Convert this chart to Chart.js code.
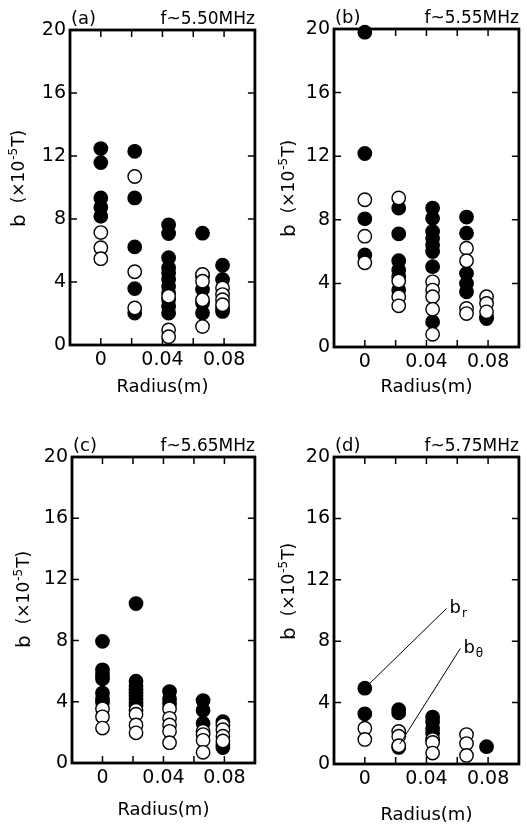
<!DOCTYPE html>
<html>
<head>
<meta charset="utf-8">
<script src="https://cdn.jsdelivr.net/npm/chart.js@4/dist/chart.umd.min.js"></script>
<style>
html,body{margin:0;padding:0;background:#fff;}
#wrap{position:relative;width:527px;height:831px;overflow:hidden;background:#fff;}
canvas{position:absolute;}
</style>
</head>
<body>
<div id="wrap">
<canvas id="ca" width="263" height="415" style="left:0;top:0"></canvas>
<canvas id="cb" width="264" height="415" style="left:263px;top:0"></canvas>
<canvas id="cc" width="263" height="416" style="left:0;top:415px"></canvas>
<canvas id="cd" width="264" height="416" style="left:263px;top:415px"></canvas>
</div>
<script>
// ---------- data ----------
const radii = [0, 0.022, 0.044, 0.066, 0.079];
const xTickValues = [-0.02, 0, 0.02, 0.04, 0.06, 0.08, 0.1];
const xTickLabels = ['', '0', '', '0.04', '', '0.08', ''];
const yTickValues = [0, 4, 8, 12, 16, 20];
const panelLetters = ['(a)', '(b)', '(c)', '(d)'];
const panelFreqs = ['f~5.50MHz', 'f~5.55MHz', 'f~5.65MHz', 'f~5.75MHz'];
const xTitle = 'Radius(m)';
const yTitleMain = 'b';
const yTitlePre = '(×10';
const yTitleSup = '-5';
const yTitlePost = 'T)';

// b_r (filled) and b_theta (open) values, one list per radius
const aFilled = [
  [12.47, 11.58, 9.34, 8.74, 8.17],
  [12.3, 9.34, 6.23, 3.58, 2.03],
  [7.63, 7.08, 5.54, 4.9, 4.58, 4.16, 3.73, 3.3, 2.88, 2.45, 2.03],
  [7.1, 4.37, 3.52, 2.67, 2.03],
  [5.07, 4.16, 2.35, 2.13]
];
const aOpen = [
  [7.14, 6.18, 5.48],
  [10.7, 4.65, 2.35],
  [3.09, 0.96, 0.53],
  [4.48, 4.05, 2.88, 1.17],
  [3.62, 3.2, 2.88, 2.56]
];
const bFilled = [
  [19.8, 12.17, 8.06, 5.79],
  [8.74, 7.12, 5.43, 4.84, 4.42, 3.58],
  [8.74, 8.1, 7.26, 6.84, 6.42, 6.0, 5.05, 1.58],
  [8.17, 7.16, 4.63, 4.0, 3.47],
  [1.89, 1.79]
];
const bOpen = [
  [9.26, 6.97, 5.3],
  [9.37, 4.15, 3.16, 2.59],
  [4.1, 3.58, 3.16, 2.38, 0.8],
  [6.21, 5.43, 2.42, 2.1],
  [3.16, 2.74, 2.21]
];
const cFilled = [
  [7.95, 6.09, 5.77, 5.5, 4.57, 4.19, 3.97],
  [10.42, 5.35, 5.03, 4.82, 4.6, 4.4, 4.19, 3.97, 3.76],
  [4.67, 4.19, 3.87],
  [4.08, 3.45, 2.6],
  [2.7, 1.23, 1.01]
];
const cOpen = [
  [3.55, 3.02, 2.28],
  [3.45, 3.19, 2.49, 1.97],
  [3.55, 2.92, 2.49, 2.07, 1.33],
  [2.07, 1.86, 1.48, 0.7],
  [2.49, 2.18, 1.75, 1.44]
];
const dFilled = [
  [4.94, 3.27],
  [3.54, 3.33, 1.08],
  [3.06, 2.75, 2.33, 2.02],
  [],
  [1.13]
];
const dOpen = [
  [2.33, 1.6],
  [2.12, 1.81, 1.19],
  [1.6, 1.4, 0.71],
  [1.92, 1.33, 0.56],
  []
];
// annotation labels in panel (d): label anchor and the point it refers to
const annBrLabel = {x: 0.055, y: 10.2};
const annBrTarget = {x: 0, y: 4.94};
const annBtLabel = {x: 0.064, y: 7.6};
const annBtTarget = {x: 0.022, y: 1.19};

// ---------- layout (canvas-relative) ----------
const layouts = [
  {id:'ca', w:263, h:415, l:70, r:259, t:30, b:345, yTx:20, yTy:227, xTy:387},
  {id:'cb', w:264, h:415, l:71, r:262, t:29, b:347, yTx:27, yTy:237, xTy:387},
  {id:'cc', w:263, h:416, l:72, r:260, t:42, b:348, yTx:25, yTy:233, xTy:395},
  {id:'cd', w:264, h:416, l:71, r:262, t:42, b:349, yTx:27, yTy:225, xTy:400}
];
const panelData = [[aFilled, aOpen], [bFilled, bOpen], [cFilled, cOpen], [dFilled, dOpen]];

const FONT = '"DejaVu Sans", "Liberation Sans", Arial, sans-serif';

function toPoints(groups) {
  const pts = [];
  groups.forEach((g, i) => g.forEach(v => pts.push({x: radii[i], y: v})));
  return pts;
}

function drawLabelWithSub(ctx, x, y, main, sub, mainSize, subSize) {
  ctx.font = mainSize + 'px ' + FONT;
  ctx.textAlign = 'left';
  ctx.textBaseline = 'alphabetic';
  ctx.fillText(main, x, y);
  const w = ctx.measureText(main).width;
  ctx.font = subSize + 'px ' + FONT;
  ctx.fillText(sub, x + w + 1, y + 4);
}

function makePlugin(idx, L) {
  return {
    id: 'frame' + idx,
    afterDatasetsDraw(chart) {
      const ctx = chart.ctx;
      const a = chart.chartArea;
      const xs = chart.scales.x, ys = chart.scales.y;
      ctx.save();
      ctx.strokeStyle = '#000';
      ctx.fillStyle = '#000';
      // inward ticks
      ctx.lineWidth = 1.5;
      ctx.beginPath();
      xTickValues.forEach(v => {
        if (v <= xs.min || v >= xs.max) return;
        const px = xs.getPixelForValue(v);
        ctx.moveTo(px, a.bottom); ctx.lineTo(px, a.bottom - 7);
        ctx.moveTo(px, a.top); ctx.lineTo(px, a.top + 7);
      });
      yTickValues.forEach(v => {
        if (v <= ys.min || v >= ys.max) return;
        const py = ys.getPixelForValue(v);
        ctx.moveTo(a.left, py); ctx.lineTo(a.left + 7, py);
        ctx.moveTo(a.right, py); ctx.lineTo(a.right - 7, py);
      });
      ctx.stroke();
      // frame
      ctx.lineWidth = 2.8;
      ctx.strokeRect(a.left, a.top, a.right - a.left, a.bottom - a.top);

      // panel letter and frequency
      ctx.font = '18px ' + FONT;
      ctx.textBaseline = 'alphabetic';
      ctx.textAlign = 'left';
      ctx.fillText(panelLetters[idx], a.left + 1, a.top - 6);
      ctx.font = '17px ' + FONT;
      ctx.textAlign = 'right';
      ctx.fillText(panelFreqs[idx], a.right, a.top - 6);

      // x title
      ctx.font = '18px ' + FONT;
      ctx.textAlign = 'center';
      ctx.textBaseline = 'middle';
      ctx.fillText(xTitle, (a.left + a.right) / 2, L.xTy);

      // y title (rotated)
      ctx.save();
      ctx.translate(L.yTx, L.yTy);
      ctx.rotate(-Math.PI / 2);
      ctx.textAlign = 'left';
      ctx.textBaseline = 'middle';
      let cx = 0;
      ctx.font = '20px ' + FONT;
      ctx.fillText(yTitleMain, cx, 0);
      cx += ctx.measureText(yTitleMain).width + 11;
      ctx.font = '17px ' + FONT;
      ctx.fillText(yTitlePre, cx, 0);
      cx += ctx.measureText(yTitlePre).width;
      ctx.font = '12px ' + FONT;
      ctx.fillText(yTitleSup, cx + 1, -6);
      cx += ctx.measureText(yTitleSup).width + 2;
      ctx.font = '17px ' + FONT;
      ctx.fillText(yTitlePost, cx, 0);
      ctx.restore();

      // annotations in panel (d)
      if (idx === 3) {
        ctx.lineWidth = 1;
        const pairs = [
          [annBrLabel, annBrTarget, 'r', 6.5],
          [annBtLabel, annBtTarget, 'θ', 2]
        ];
        pairs.forEach(([lab, tgt, sub, cut]) => {
          const lx = xs.getPixelForValue(lab.x), ly = ys.getPixelForValue(lab.y);
          const tx = xs.getPixelForValue(tgt.x), ty = ys.getPixelForValue(tgt.y);
          const sx = lx - 3, sy = ly + 1;
          const dx = tx - sx, dy = ty - sy, d = Math.hypot(dx, dy);
          ctx.beginPath();
          ctx.moveTo(sx, sy);
          ctx.lineTo(tx - dx / d * cut, ty - dy / d * cut);
          ctx.stroke();
          drawLabelWithSub(ctx, lx, ly + 6, 'b', sub, 18, 12);
        });
      }
      ctx.restore();
    }
  };
}

layouts.forEach((L, idx) => {
  const [filled, open] = panelData[idx];
  new Chart(document.getElementById(L.id), {
    type: 'scatter',
    data: {
      datasets: [
        {
          label: 'b_theta',
          data: toPoints(open),
          pointStyle: 'circle',
          pointRadius: 6.7,
          pointHoverRadius: 6.7,
          pointBackgroundColor: '#ffffff',
          pointBorderColor: '#000000',
          pointBorderWidth: 1.4,
          clip: false
        },
        {
          label: 'b_r',
          data: toPoints(filled),
          pointStyle: 'circle',
          pointRadius: 6.7,
          pointHoverRadius: 6.7,
          pointBackgroundColor: '#000000',
          pointBorderColor: '#000000',
          pointBorderWidth: 1.4,
          clip: false
        }
      ]
    },
    options: {
      responsive: false,
      animation: false,
      events: [],
      layout: {padding: {left: 0, top: L.t, right: L.w - L.r, bottom: 0}},
      plugins: {legend: {display: false}, tooltip: {enabled: false}, title: {display: false}},
      scales: {
        x: {
          type: 'linear',
          min: -0.02,
          max: 0.1,
          afterBuildTicks(s) { s.ticks = xTickValues.map(v => ({value: v})); },
          afterFit(s) { s.height = L.h - L.b; },
          grid: {display: false, drawTicks: false},
          border: {display: false},
          ticks: {
            autoSkip: false,
            maxRotation: 0,
            padding: 4,
            color: '#000',
            font: {family: FONT, size: 19},
            callback: (v, i) => xTickLabels[i]
          }
        },
        y: {
          type: 'linear',
          min: 0,
          max: 20,
          afterBuildTicks(s) { s.ticks = yTickValues.map(v => ({value: v})); },
          afterFit(s) { s.width = L.l; },
          grid: {display: false, drawTicks: false},
          border: {display: false},
          ticks: {
            autoSkip: false,
            padding: 4,
            color: '#000',
            font: {family: FONT, size: 19},
            callback: v => String(v)
          }
        }
      }
    },
    plugins: [makePlugin(idx, L)]
  });
});
</script>
</body>
</html>
